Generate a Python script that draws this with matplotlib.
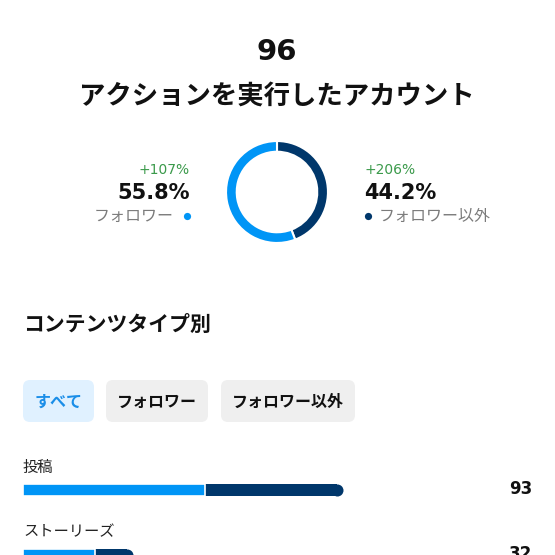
import matplotlib
matplotlib.use("Agg")
import matplotlib.pyplot as plt
from matplotlib.patches import FancyBboxPatch

plt.rcParams['font.family'] = ['Noto Sans CJK JP', 'DejaVu Sans']

# ---- data ----
total_accounts = 96
title = "アクションを実行したアカウント"
donut_labels = ["フォロワー以外", "フォロワー"]
donut_shares = [44.2, 55.8]
donut_changes = ["+206%", "+107%"]
section_title = "コンテンツタイプ別"
filter_buttons = ["すべて", "フォロワー", "フォロワー以外"]
content_types = ["投稿", "ストーリーズ"]
follower_counts = [53, 21]
nonfollower_counts = [40, 11]
totals = [93, 32]

LIGHT = "#0095f6"
DARK = "#00376b"
GREEN = "#3b9a4b"
GREY = "#7b7b7b"
NUM = ['DejaVu Sans']

W = H = 555
fig = plt.figure(figsize=(5.55, 5.55), dpi=100)
fig.patch.set_facecolor("white")

# background pixel-space axes for UI text/chrome
bg = fig.add_axes([0, 0, 1, 1])
bg.set_xlim(0, W)
bg.set_ylim(H, 0)
bg.axis("off")

bg.text(277, 52, str(total_accounts), ha="center", va="center", fontsize=21, fontweight="bold",
        color="#111111", family=NUM)
bg.text(277, 96, title, ha="center", va="center", fontsize=19, fontweight="bold", color="#111111")

# donut
ax_d = fig.add_axes([225 / W, (H - 244) / H, 104 / W, 104 / H])
ax_d.pie(donut_shares, colors=[DARK, LIGHT], startangle=90, counterclock=False,
         wedgeprops=dict(width=0.21, edgecolor="white", linewidth=1.5))
ax_d.set_xlim(-1.02, 1.02)
ax_d.set_ylim(-1.02, 1.02)
ax_d.set_aspect("equal")
ax_d.axis("off")

# left side (followers)
bg.text(190, 170, donut_changes[1], ha="right", va="center", fontsize=10, color=GREEN, family=NUM)
bg.text(190, 193, f"{donut_shares[1]}%", ha="right", va="center", fontsize=15, fontweight="bold",
        color="#111111", family=NUM)
bg.text(174, 216, donut_labels[1], ha="right", va="center", fontsize=11.5, color=GREY)
bg.plot([187], [216], "o", ms=5.2, color=LIGHT, mec="none")

# right side (non-followers)
bg.text(364, 170, donut_changes[0], ha="left", va="center", fontsize=10, color=GREEN, family=NUM)
bg.text(364, 193, f"{donut_shares[0]}%", ha="left", va="center", fontsize=15, fontweight="bold",
        color="#111111", family=NUM)
bg.plot([368], [216], "o", ms=5.2, color=DARK, mec="none")
bg.text(379, 216, donut_labels[0], ha="left", va="center", fontsize=11.5, color=GREY)

# section title
bg.text(23, 324, section_title, ha="left", va="center", fontsize=15, fontweight="bold", color="#111111")

# filter buttons
btn_boxes = [(23, 94), (106, 208), (221, 355)]
for i, (lbl, (x0, x1)) in enumerate(zip(filter_buttons, btn_boxes)):
    fc = "#e0f1ff" if i == 0 else "#efefef"
    tc = "#1a8ee8" if i == 0 else "#111111"
    bg.add_patch(FancyBboxPatch((x0, 380), x1 - x0, 42,
                                boxstyle="round,pad=0,rounding_size=7",
                                fc=fc, ec="none"))
    bg.text((x0 + x1) / 2, 401.5, lbl, ha="center", va="center", fontsize=11.5,
            fontweight="bold", color=tc)

# content-type labels and values
row_y = [490, 555]
for lbl, tot, yc in zip(content_types, totals, row_y):
    bg.text(23, yc - 23, lbl, ha="left", va="center", fontsize=11, color="#222222")
    bg.text(532, yc - 1, str(tot), ha="right", va="center", fontsize=12, fontweight="bold",
            color="#111111", family=NUM)

# bars
ax_b = fig.add_axes([23 / W, 0, 500 / W, 100 / H])
ax_b.set_xlim(0, 145.3)
ax_b.set_ylim(1.0, -0.538)
ax_b.axis("off")
bar_h = 12 / 65
ypos = list(range(len(content_types)))
fig.canvas.draw()
# cap radius in data units (6 px)
px_per_unit = ax_b.transData.transform((1, 0))[0] - ax_b.transData.transform((0, 0))[0]
r = 6 / px_per_unit
dark_w = [n - r for n in nonfollower_counts]
ax_b.barh(ypos, dark_w, left=follower_counts, height=bar_h, color=DARK, zorder=1)
ax_b.plot([f + n - r for f, n in zip(follower_counts, nonfollower_counts)], ypos, "o",
          ms=12 * 0.72, color=DARK, mec="none", zorder=1)
ax_b.barh(ypos, follower_counts, height=bar_h, color=LIGHT, edgecolor="white",
          linewidth=1.2, zorder=2)

fig.savefig("out.png", dpi=100, facecolor="white")
